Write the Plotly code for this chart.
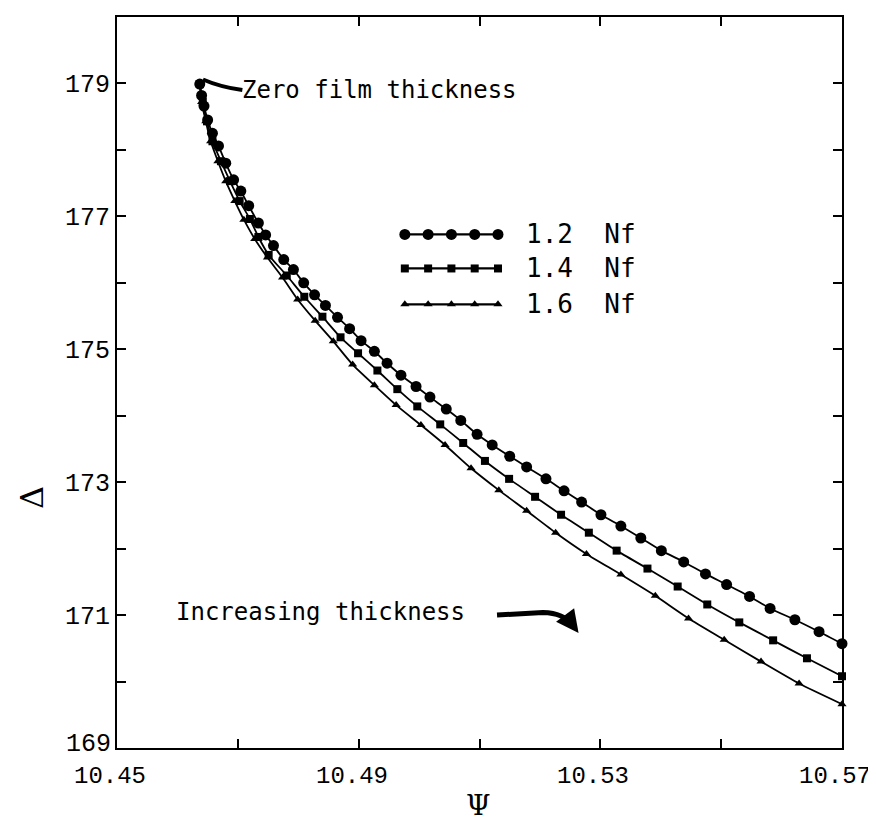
import plotly.graph_objects as go

# Data (Psi, Delta)
psi_12 = [10.4637, 10.4640, 10.4644, 10.4650, 10.4658, 10.4668, 10.4680, 10.4693, 10.4705, 10.4718,
          10.4734, 10.4746, 10.4759, 10.4776, 10.4792, 10.4809, 10.4827, 10.4845, 10.4865, 10.4885,
          10.4904, 10.4926, 10.4947, 10.4970, 10.4995, 10.5018, 10.5045, 10.5069, 10.5096, 10.5121,
          10.5150, 10.5178, 10.5210, 10.5240, 10.5269, 10.5301, 10.5334, 10.5367, 10.5401, 10.5438,
          10.5474, 10.5509, 10.5547, 10.5581, 10.5622, 10.5662, 10.5700]
delta_12 = [178.99, 178.82, 178.66, 178.45, 178.25, 178.06, 177.80, 177.55, 177.38, 177.16,
            176.90, 176.72, 176.56, 176.35, 176.20, 176.00, 175.82, 175.66, 175.48, 175.31,
            175.13, 174.97, 174.79, 174.61, 174.44, 174.28, 174.10, 173.93, 173.72, 173.56,
            173.39, 173.23, 173.05, 172.87, 172.70, 172.51, 172.34, 172.16, 171.97, 171.80,
            171.62, 171.46, 171.28, 171.10, 170.93, 170.75, 170.57]

psi_14 = [10.4637, 10.4642, 10.4649, 10.4658, 10.4672, 10.4687, 10.4703, 10.4720, 10.4734, 10.4751,
          10.4781, 10.4810, 10.4840, 10.4870, 10.4899, 10.4931, 10.4964, 10.4997, 10.5035, 10.5073,
          10.5109, 10.5149, 10.5192, 10.5235, 10.5281, 10.5327, 10.5378, 10.5428, 10.5477, 10.5530,
          10.5586, 10.5642, 10.5700]
delta_14 = [178.99, 178.72, 178.43, 178.13, 177.83, 177.53, 177.23, 176.96, 176.69, 176.42,
            176.11, 175.79, 175.49, 175.18, 174.94, 174.68, 174.40, 174.14, 173.87, 173.59,
            173.32, 173.05, 172.78, 172.51, 172.24, 171.97, 171.70, 171.43, 171.16, 170.89,
            170.62, 170.35, 170.08]

psi_16 = [10.4637, 10.4640, 10.4647, 10.4655, 10.4667, 10.4680, 10.4695, 10.4710, 10.4728, 10.4749,
          10.4774, 10.4799, 10.4828, 10.4858, 10.4890, 10.4926, 10.4962, 10.5003, 10.5043, 10.5086,
          10.5132, 10.5178, 10.5226, 10.5277, 10.5334, 10.5391, 10.5446, 10.5505, 10.5566, 10.5629,
          10.5700]
delta_16 = [178.99, 178.72, 178.43, 178.13, 177.83, 177.53, 177.23, 176.95, 176.66, 176.38,
            176.08, 175.75, 175.43, 175.12, 174.77, 174.46, 174.16, 173.86, 173.56, 173.21,
            172.88, 172.57, 172.24, 171.92, 171.61, 171.29, 170.95, 170.63, 170.30, 169.97,
            169.66]

series_names = ["1.2  Nf", "1.4  Nf", "1.6  Nf"]

x_tickvals = [10.45, 10.47, 10.49, 10.51, 10.53, 10.55, 10.57]
x_labelvals = [10.45, 10.49, 10.53, 10.57]
x_labeltext = ["10.45", "10.49", "10.53", "10.57"]
y_tickvals = [169, 170, 171, 172, 173, 174, 175, 176, 177, 178, 179, 180]
y_ticktext = ["", "", "171", "", "173", "", "175", "", "177", "", "179", ""]

TICKFONT = "Liberation Mono"
TXTFONT = "DejaVu Sans Mono"

fig = go.Figure()

styles = [
    dict(symbol="circle", size=11),
    dict(symbol="square", size=8),
    dict(symbol="triangle-up", size=8),
]
data = [(psi_12, delta_12), (psi_14, delta_14), (psi_16, delta_16)]

for (xs, ys), st, nm in zip(data, styles, series_names):
    fig.add_trace(go.Scatter(
        x=xs, y=ys, mode="lines+markers", name=nm,
        line=dict(color="black", width=1.8, shape="spline", smoothing=0.6),
        marker=dict(color="black", symbol=st["symbol"], size=st["size"]),
        cliponaxis=False, showlegend=False,
    ))

# Custom legend (5 markers on each key line), on an overlay axis in [0,1] plot units
leg_x0, leg_x1 = 0.397, 0.5255
leg_ys = [0.7026, 0.656, 0.607]
for st, nm, ly in zip(styles, series_names, leg_ys):
    kx = [leg_x0 + i * (leg_x1 - leg_x0) / 4 for i in range(5)]
    fig.add_trace(go.Scatter(
        x=kx, y=[ly] * 5, xaxis="x2", yaxis="y2", mode="lines+markers",
        line=dict(color="black", width=2.2),
        marker=dict(color="black", symbol=st["symbol"], size=st["size"]),
        showlegend=False, hoverinfo="skip",
    ))
    fig.add_annotation(x=0.562, y=ly, xref="x2", yref="y2", text=nm, showarrow=False,
                       xanchor="left", yanchor="middle",
                       font=dict(family=TXTFONT, size=26, color="black"))

# "Zero film thickness" label with a short hooked pointer to the first point
fig.add_shape(type="path", xref="x", yref="y",
              path="M 10.46423,179.06 Q 10.46700,178.95 10.47075,178.90",
              line=dict(color="black", width=4))
fig.add_annotation(x=10.4704, y=178.9, xref="x", yref="y", text="Zero film thickness", showarrow=False,
                   xanchor="left", yanchor="middle", font=dict(family=TXTFONT, size=24, color="black"))

# "Increasing thickness" label with curved arrow
fig.add_annotation(x=10.4595, y=171.05, xref="x", yref="y", text="Increasing thickness", showarrow=False,
                   xanchor="left", yanchor="middle", font=dict(family=TXTFONT, size=24, color="black"))
fig.add_shape(type="path", xref="x", yref="y",
              path="M 10.5129,171.00 L 10.5205,171.04 Q 10.5240,171.03 10.5252,170.86",
              line=dict(color="black", width=5))
fig.add_annotation(x=10.5264, y=170.73, xref="x", yref="y", ax=10.5250, ay=170.90,
                   axref="x", ayref="y", text="", showarrow=True, arrowhead=2, arrowsize=0.9,
                   arrowwidth=5, arrowcolor="black", standoff=0)

# "169" label placed manually (sits just above the corner, as in the reference)
fig.add_annotation(x=0, y=169, xref="paper", yref="y", xanchor="right", yanchor="middle",
                   xshift=-4, yshift=4, text="169", showarrow=False,
                   font=dict(family=TICKFONT, size=25, color="black"))

# x tick labels (drawn slightly left of their ticks, as in the reference)
for v, t in zip(x_labelvals, x_labeltext):
    fig.add_annotation(x=v, y=0, xref="x", yref="paper", xanchor="center", yanchor="middle",
                       xshift=-7, yshift=-28, text=t, showarrow=False,
                       font=dict(family=TICKFONT, size=24, color="black"))

# Axis titles
fig.add_annotation(x=0, y=0.342, xref="paper", yref="paper", xanchor="center", yanchor="middle",
                   xshift=-85, text="Δ", showarrow=False,
                   textangle=-90, font=dict(family="DejaVu Serif", size=32, color="black"))
fig.add_annotation(x=0.498, y=0, xref="paper", yref="paper", xanchor="center", yanchor="middle",
                   yshift=-57, text="Ψ", showarrow=False,
                   font=dict(family="DejaVu Serif", size=28, color="black"))

axis_common = dict(showgrid=False, zeroline=False, showline=True, linecolor="black", linewidth=2,
                   mirror="ticks", ticks="inside", ticklen=9, tickwidth=2, tickcolor="black",
                   tickfont=dict(family=TICKFONT, size=25, color="black"))

fig.update_layout(
    width=876, height=826,
    margin=dict(l=109, r=42, t=7, b=86),
    paper_bgcolor="white", plot_bgcolor="white",
    xaxis=dict(range=[10.45, 10.57], tickmode="array", tickvals=x_tickvals,
               showticklabels=False, **axis_common),
    yaxis=dict(range=[169, 180], tickmode="array", tickvals=y_tickvals, ticktext=y_ticktext,
               **axis_common),
    xaxis2=dict(range=[0, 1], overlaying="x", visible=False),
    yaxis2=dict(range=[0, 1], overlaying="y", visible=False),
)

fig.write_html("out.html")
